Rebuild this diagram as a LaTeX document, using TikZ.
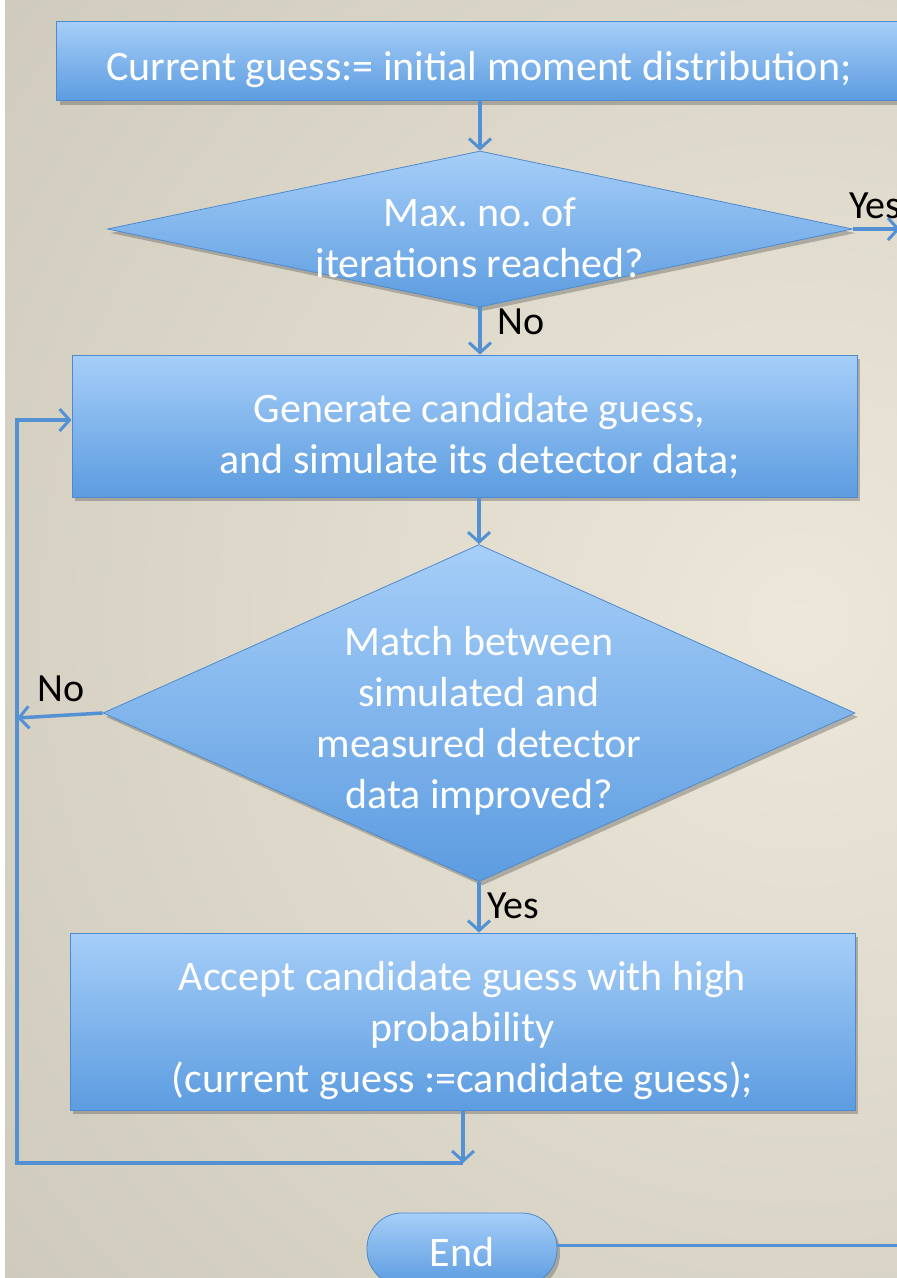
\documentclass[tikz,border=0pt]{standalone}
\usepackage{fontspec}
\setmainfont{Carlito}
\frenchspacing
\usetikzlibrary{shapes.geometric,shadows,arrows.meta}
\definecolor{arr}{RGB}{83,145,212}
\definecolor{bgL}{RGB}{188,184,170}
\definecolor{bgC}{RGB}{236,231,216}
\definecolor{boxT}{RGB}{166,206,248}
\definecolor{boxB}{RGB}{92,156,224}
\definecolor{boxD}{RGB}{78,138,205}
\tikzset{
  shp/.style={top color=boxT,bottom color=boxB,draw=boxD,line width=0.8pt,
    inner sep=0pt,
    drop shadow={shadow xshift=3pt,shadow yshift=-4pt,opacity=0.35,fill=black!70}},
  box/.style={shp,rectangle},
  dia/.style={shp,diamond},
  term/.style={shp,rectangle,rounded corners=35pt},
  txt/.style={text=white,align=center,font=\fontsize{42}{51}\selectfont,inner sep=0pt},
  lbl/.style={text=black,font=\fontsize{40}{44}\selectfont,inner sep=0pt},
  conn/.style={draw=arr,line width=3.5pt},
  arrw/.style={conn,-{Straight Barb[length=10pt,width=22pt,line width=3pt]}}
}
\begin{document}
\begin{tikzpicture}[x=1pt,y=-1pt]
\useasboundingbox (0,0) rectangle (897,1278);
\clip (0,0) rectangle (897,1278);
\shade[inner color=bgC,outer color=bgL] (800,620) circle[radius=1700pt];
\fill[white] (0,0) rectangle (5,1278);

% nodes
\node[box,minimum width=845pt,minimum height=79pt,
  label={[txt,yshift=-9pt]center:Current guess:= initial moment distribution;}]
  (init) at (479,61) {};
\node[dia,minimum width=745pt,minimum height=156pt,
  label={[txt,yshift=-9pt]center:Max. no. of\\iterations reached?}]
  (d1) at (480,229) {};
\node[box,minimum width=785pt,minimum height=142pt,
  label={[txt,xshift=15pt,yshift=-10pt]center:Generate candidate guess,\\and simulate its detector data;}]
  (gen) at (464.5,426) {};
\node[dia,minimum width=752pt,minimum height=337pt,
  label={[txt,yshift=-8pt]center:Match between\\simulated and\\measured detector\\data improved?}]
  (d2) at (479,713) {};
\node[box,minimum width=785pt,minimum height=177pt,
  label={[txt,yshift=-9pt]center:Accept candidate guess with high\\probability\\(current guess :=candidate guess);}]
  (acc) at (462.5,1021.5) {};
\node[term,minimum width=190pt,minimum height=72pt,
  label={[txt,yshift=-3pt]center:End}]
  (end) at (462,1249) {};

% coordinates
\coordinate (yesout) at (900,229);
\coordinate (join) at (463,1163);
\coordinate (loopx) at (17,1163);
\coordinate (looptop) at (17,420);
\coordinate (noend) at (17,718);
\coordinate (endout) at (900,1245);

% connectors
\draw[arrw] (init.south -| d1.north) -- (d1.north);
\draw[arrw] (d1.east) -- (yesout);
\draw[arrw] (d1.south) -- (d1.south |- gen.north);
\draw[arrw] (d2.north |- gen.south) -- (d2.north);
\draw[arrw] (d2.west) -- (noend);
\draw[arrw] (d2.south) -- (d2.south |- acc.north);
\draw[arrw] (acc.south -| join) -- (join);
\draw[arrw] (join) -- (loopx) -- (looptop) -- (looptop -| gen.west);
\draw[conn,line width=3pt] (end.east |- endout) -- (endout);

% labels
\node[lbl,anchor=west] (lyes1) at (849,206) {Yes};
\node[lbl,anchor=west] (lno1) at (497,322) {No};
\node[lbl] (lno2) at (61,689) {No};
\node[lbl,anchor=west] (lyes2) at (487,906) {Yes};
\end{tikzpicture}
\end{document}
